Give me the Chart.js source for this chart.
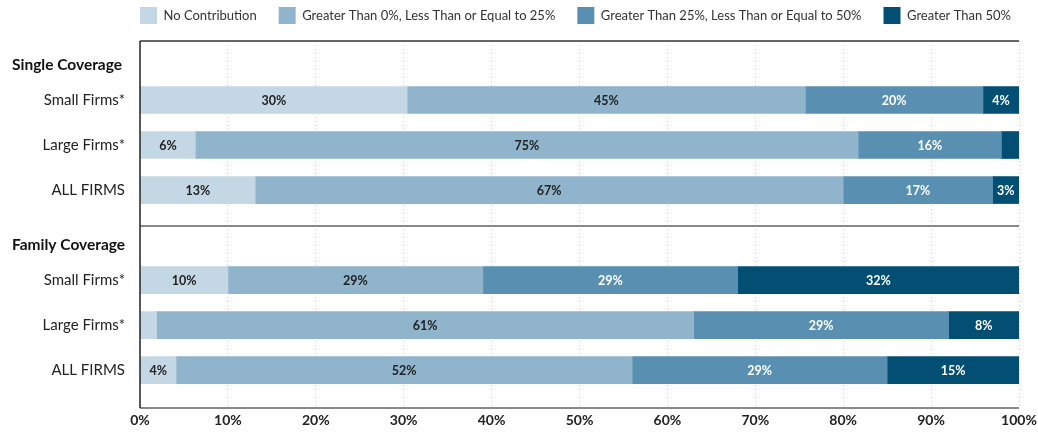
<!DOCTYPE html>
<html>
<head>
<meta charset="utf-8">
<script src="https://cdn.jsdelivr.net/npm/chart.js@4.4.1/dist/chart.umd.min.js"></script>
<style>
  html, body { margin: 0; background: #fff; }
  #wrap { width: 1038px; height: 432px; }
</style>
</head>
<body>
<div id="wrap"><canvas id="contribChart"></canvas></div>
<script>
const rowLabels = ['Single Coverage', 'Small Firms*', 'Large Firms*', 'ALL FIRMS',
                   'Family Coverage', 'Small Firms*', 'Large Firms*', 'ALL FIRMS'];
const headerRows = [0, 4];
const seriesNames = ['No Contribution', 'Greater Than 0%, Less Than or Equal to 25%',
                     'Greater Than 25%, Less Than or Equal to 50%', 'Greater Than 50%'];
const noContribution = [null, 30.4, 6.3, 13.1, null, 10.0, 1.9, 4.1];
const upTo25 = [null, 45.3, 75.4, 66.9, null, 29.0, 61.1, 51.9];
const upTo50 = [null, 20.2, 16.3, 17.0, null, 29.0, 29.0, 29.0];
const over50 = [null, 4.1, 2.0, 3.0, null, 32.0, 8.0, 15.0];
const xTickValues = [0, 10, 20, 30, 40, 50, 60, 70, 80, 90, 100];

const colors = ['#c4d7e5', '#8fb4cb', '#5990b2', '#034f74'];
const labelColors = ['#222', '#222', '#fff', '#fff'];
const FONT = 'Lato, "Liberation Sans", sans-serif';

const allSeries = [noContribution, upTo25, upTo50, over50];

const datasets = allSeries.map((values, i) => ({
  label: seriesNames[i],
  data: values.map((v, idx) => ({ x: v, y: idx })).filter(p => p.x !== null),
  backgroundColor: colors[i],
  borderWidth: 0,
  barThickness: 27
}));

// legend: wide item spacing, starting at the plot's left edge, plot top at y=41
const legendFit = {
  id: 'legendFit',
  beforeInit(chart) {
    const fit = chart.legend.fit;
    chart.legend.fit = function () {
      fit.call(this);
      this.height = 56;
    };
  },
  afterLayout(chart) {
    const lg = chart.legend;
    const w = lg.width;
    lg.left = chart.chartArea.left - lg.options.labels.padding;
    lg.right = lg.left + w;
  }
};

const extras = {
  id: 'extras',
  afterDatasetsDraw(chart) {
    const { ctx, chartArea: a, scales } = chart;
    const y = scales.y;

    // segment labels
    ctx.save();
    ctx.font = 'bold 12.5px ' + FONT;
    ctx.textAlign = 'center';
    ctx.textBaseline = 'middle';
    chart.data.datasets.forEach((ds, di) => {
      const meta = chart.getDatasetMeta(di);
      meta.data.forEach((bar, j) => {
        const v = ds.data[j].x;
        if (v < 2.5) return;
        ctx.fillStyle = labelColors[di];
        ctx.fillText(Math.round(v) + '%', (bar.x + bar.base) / 2, bar.y + 1);
      });
    });
    ctx.restore();

    // frame lines
    ctx.save();
    ctx.lineWidth = 1.5;
    ctx.strokeStyle = '#333';
    ctx.beginPath();
    ctx.moveTo(a.left, a.top);
    ctx.lineTo(a.right, a.top);
    ctx.stroke();
    ctx.strokeStyle = '#888';
    ctx.lineWidth = 2;
    const sepY = y.getPixelForValue(3.8);
    ctx.beginPath();
    ctx.moveTo(a.left, sepY);
    ctx.lineTo(a.right, sepY);
    ctx.moveTo(a.left, a.bottom);
    ctx.lineTo(a.right, a.bottom);
    ctx.stroke();
    ctx.strokeStyle = '#222';
    ctx.lineWidth = 1.5;
    ctx.beginPath();
    ctx.moveTo(a.left, a.top);
    ctx.lineTo(a.left, a.bottom);
    ctx.stroke();

    // group headers
    ctx.font = 'bold 15.5px ' + FONT;
    ctx.fillStyle = '#111';
    ctx.textAlign = 'left';
    ctx.textBaseline = 'middle';
    headerRows.forEach(r => {
      ctx.fillText(rowLabels[r], 12, y.getPixelForValue(r) + 10);
    });
    ctx.restore();
  }
};

new Chart(document.getElementById('contribChart'), {
  type: 'bar',
  data: { datasets },
  plugins: [legendFit, extras],
  options: {
    indexAxis: 'y',
    responsive: true,
    maintainAspectRatio: false,
    animation: false,
    layout: { padding: { top: -15, right: 0, left: 0, bottom: 0 } },
    scales: {
      x: {
        type: 'linear',
        stacked: true,
        min: 0,
        max: 100,
        afterBuildTicks: s => { s.ticks = xTickValues.map(v => ({ value: v })); },
        afterFit: s => { s.height = 24; s.paddingRight = 19; },
        grid: { color: '#cfcfcf', lineWidth: 1, drawTicks: false },
        border: { display: false, dash: [1, 3] },
        ticks: {
          padding: 4,
          color: '#222',
          font: { family: FONT, size: 14, weight: 'bold' },
          callback: v => v + '%'
        }
      },
      y: {
        type: 'linear',
        stacked: true,
        reverse: true,
        offset: false,
        min: -0.31,
        max: 7.84,
        afterBuildTicks: s => { s.ticks = rowLabels.map((l, i) => ({ value: i })); },
        afterFit: s => { s.width = 140; },
        grid: { display: false, drawTicks: false, offset: false },
        border: { display: false },
        ticks: {
          autoSkip: false,
          padding: 15,
          color: '#222',
          font: { family: FONT, size: 15 },
          callback: v => headerRows.includes(v) ? '' : rowLabels[v]
        }
      }
    },
    plugins: {
      legend: {
        position: 'top',
        align: 'start',
        labels: {
          boxWidth: 17,
          boxHeight: 17,
          padding: 22,
          color: '#333',
          font: { family: FONT, size: 13 }
        }
      },
      tooltip: { enabled: false }
    }
  }
});
</script>
</body>
</html>
